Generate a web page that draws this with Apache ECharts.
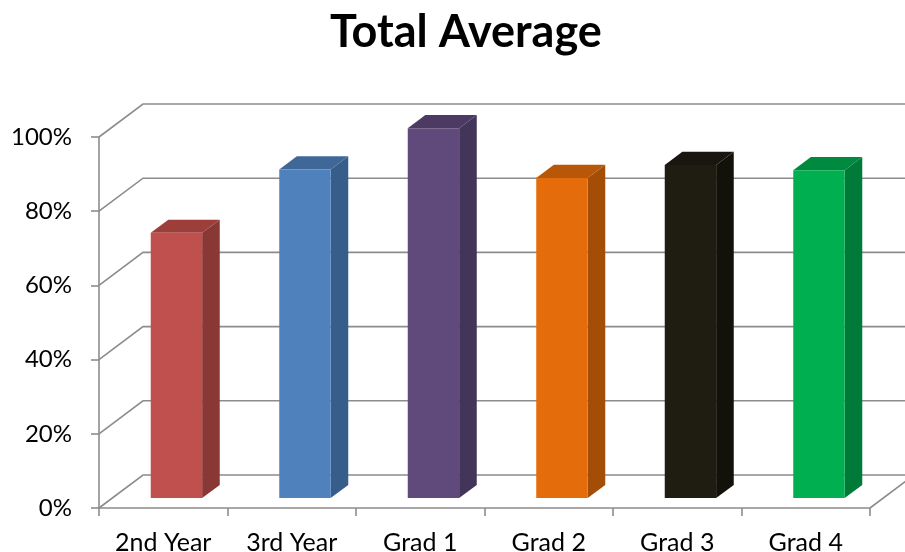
<!DOCTYPE html>
<html>
<head>
<meta charset="utf-8">
<script src="https://cdn.jsdelivr.net/npm/echarts@6/dist/echarts.min.js"></script>
<style>
html,body{margin:0;padding:0;background:#fff;}
#c{width:905px;height:552px;}
</style>
</head>
<body>
<div id="c"></div>
<script>
// ---- data ----
const categories = ['2nd Year', '3rd Year', 'Grad 1', 'Grad 2', 'Grad 3', 'Grad 4'];
const values = [71.5, 88.6, 99.7, 86.3, 89.8, 88.4];
const yTicks = [0, 20, 40, 60, 80, 100];
const frontColors = ['#C0504D', '#4F81BD', '#604A7B', '#E46C0A', '#1F1C12', '#00B050'];
const topColors   = ['#9E3E3B', '#3F6898', '#4C3A63', '#B85708', '#18160E', '#008A3F'];
const sideColors  = ['#8A3835', '#375D8A', '#433459', '#A34D06', '#13120A', '#007A38'];

// depth vector of the 3D box (pixels)
const DX = 44, DY = -33;
const F0 = 0.3, F1 = 0.7;
const GRID_COLOR = '#8c8c8c';
const FONT = 'Lato';

const chart = echarts.init(document.getElementById('c'), null, {renderer: 'canvas'});

const option = {
  animation: false,
  backgroundColor: '#fff',
  title: {
    text: 'Total Average',
    left: 325,
    top: 5,
    textStyle: {fontFamily: FONT, fontWeight: 'bold', fontSize: 45, color: '#000'}
  },
  grid: {left: 99, right: 35, top: 137, bottom: 44, containLabel: false, outerBoundsMode: 'none'},
  xAxis: {
    type: 'category',
    data: categories,
    boundaryGap: true,
    axisLine: {show: true, lineStyle: {color: GRID_COLOR, width: 1.6}},
    axisTick: {show: true, length: 8, alignWithLabel: false, lineStyle: {color: GRID_COLOR, width: 1.6}},
    axisLabel: {fontFamily: FONT, fontSize: 25, color: '#000', margin: 22, interval: 0},
    splitLine: {show: false}
  },
  yAxis: {
    type: 'value',
    min: 0, max: 100, interval: 20,
    axisLine: {show: true, lineStyle: {color: GRID_COLOR, width: 1.6}},
    axisTick: {show: true, length: 8, lineStyle: {color: GRID_COLOR, width: 1.6}},
    axisLabel: {fontFamily: FONT, fontSize: 24, color: '#000', margin: 27, formatter: '{value}%'},
    splitLine: {show: false}
  },
  series: [
    {
      type: 'custom',
      name: 'walls',
      silent: true,
      clip: false,
      data: yTicks.map(v => [0, v]),
      encode: {x: 0, y: 1},
      renderItem: function (params, api) {
        const cs = params.coordSys;
        const v = api.value(1);
        const y = api.coord([0, v])[1];
        const x0 = cs.x, x1 = cs.x + cs.width;
        const children = [
          {type: 'polyline', shape: {points: [[x0, y], [x0 + DX, y + DY], [x1 + DX, y + DY]]},
           style: {stroke: GRID_COLOR, lineWidth: 1.6, fill: null}}
        ];
        if (v === 0) {
          children.push({type: 'line', shape: {x1: x1, y1: y, x2: x1 + DX, y2: y + DY},
            style: {stroke: GRID_COLOR, lineWidth: 1.6}});
        }
        return {type: 'group', children: children};
      },
      z: 1
    },
    {
      type: 'custom',
      name: 'Total Average',
      clip: false,
      data: values.map((v, i) => [i, v]),
      encode: {x: 0, y: 1},
      renderItem: function (params, api) {
        const i = api.value(0), v = api.value(1);
        const top = api.coord([i, v]);
        const bot = api.coord([i, 0]);
        const band = api.size([1, 0])[0];
        const w = band * 0.4;
        const xl = top[0] - w / 2 + DX * F0;
        const xr = top[0] + w / 2 + DX * F0;
        const yt = top[1] + DY * F0;
        const yb = bot[1] + DY * F0;
        const ddx = DX * (F1 - F0), ddy = DY * (F1 - F0);
        const idx = params.dataIndex;
        return {
          type: 'group',
          children: [
            {type: 'polygon', shape: {points: [[xr, yt], [xr + ddx, yt + ddy], [xr + ddx, yb + ddy], [xr, yb]]},
             style: {fill: sideColors[idx]}},
            {type: 'polygon', shape: {points: [[xl, yt], [xl + ddx, yt + ddy], [xr + ddx, yt + ddy], [xr, yt]]},
             style: {fill: topColors[idx]}},
            {type: 'rect', shape: {x: xl, y: yt, width: xr - xl, height: yb - yt},
             style: {fill: frontColors[idx]}}
          ]
        };
      },
      z: 2
    }
  ]
};
chart.setOption(option);
</script>
</body>
</html>
